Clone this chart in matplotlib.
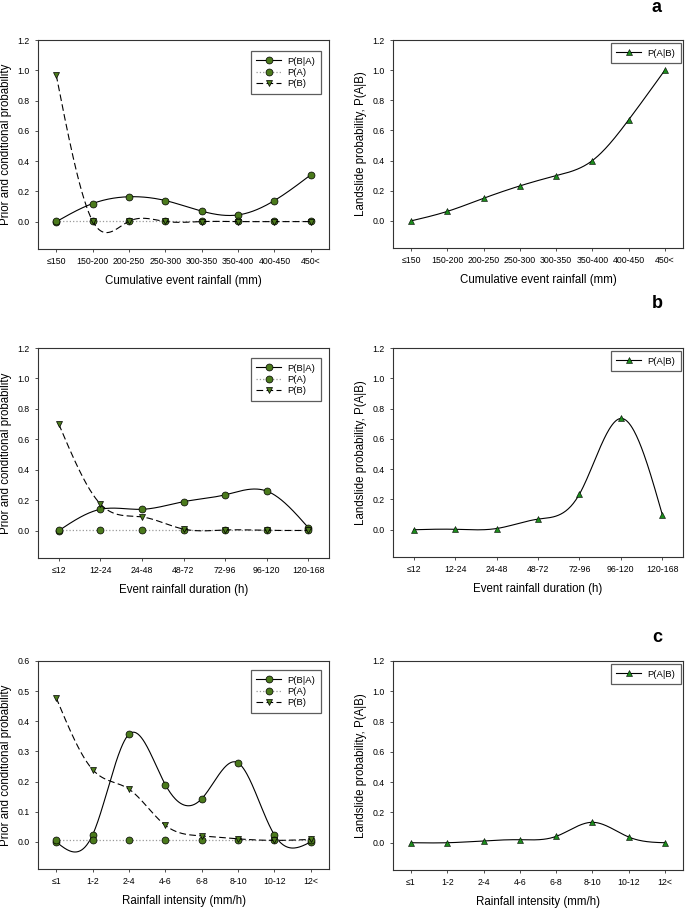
import numpy as np
import matplotlib
matplotlib.use("Agg")
import matplotlib.pyplot as plt

plt.rcParams['font.family'] = ['Liberation Sans', 'DejaVu Sans']

# 类别标签
CAT_RAIN = ["≤150", "150-200", "200-250", "250-300", "300-350", "350-400", "400-450", "450<"]
CAT_DUR = ["≤12", "12-24", "24-48", "48-72", "72-96", "96-120", "120-168"]
CAT_INT = ["≤1", "1-2", "2-4", "4-6", "6-8", "8-10", "10-12", "12<"]

# a: 累计降雨
A_PBA = [0.0, 0.12, 0.165, 0.14, 0.07, 0.045, 0.14, 0.31]
A_PA = [0.005, 0.005, 0.005, 0.005, 0.005, 0.005, 0.005, 0.005]
A_PB = [0.97, 0.005, 0.003, 0.002, 0.001, 0.001, 0.001, 0.001]
A_PAB = [0.0, 0.063, 0.15, 0.232, 0.30, 0.40, 0.67, 1.0]

# b: 降雨历时
B_PBA = [0.0, 0.14, 0.14, 0.19, 0.235, 0.26, 0.02]
B_PA = [0.005, 0.005, 0.005, 0.005, 0.005, 0.005, 0.005]
B_PB = [0.70, 0.175, 0.09, 0.01, 0.004, 0.002, 0.001]
B_PAB = [0.0, 0.003, 0.008, 0.07, 0.235, 0.735, 0.10]

# c: 降雨强度
C_PBA = [0.0, 0.023, 0.357, 0.19, 0.143, 0.262, 0.023, 0.0]
C_PA = [0.005, 0.005, 0.005, 0.005, 0.005, 0.005, 0.005, 0.005]
C_PB = [0.478, 0.24, 0.175, 0.055, 0.02, 0.01, 0.005, 0.008]
C_PAB = [0.0, 0.0, 0.012, 0.02, 0.042, 0.135, 0.038, 0.0]

GREEN_DARK = "#4b7a1c"
GREEN = "#1c8c1c"
EDGE = "#333333"

fig = plt.figure(figsize=(6.85, 9.08), dpi=100)
W, H = 685.0, 908.0


def natural_spline(y, n=300):
    # 自然三次样条
    y = np.asarray(y, float)
    m = len(y)
    A = np.zeros((m, m))
    r = np.zeros(m)
    A[0, 0] = A[-1, -1] = 1
    for i in range(1, m - 1):
        A[i, i - 1] = 1
        A[i, i] = 4
        A[i, i + 1] = 1
        r[i] = 6 * (y[i + 1] - 2 * y[i] + y[i - 1])
    M = np.linalg.solve(A, r)
    xs = np.linspace(0, m - 1, n)
    idx = np.clip(np.floor(xs).astype(int), 0, m - 2)
    t = xs - idx
    ys = ((1 - t) * y[idx] + t * y[idx + 1]
          + ((1 - t) ** 3 - (1 - t)) * M[idx] / 6
          + (t ** 3 - t) * M[idx + 1] / 6)
    return xs, ys


def style_axes(ax, cats, xlabel, ylabel, ymax, ymin, step):
    ax.set_xlim(-0.5, len(cats) - 0.5)
    ax.set_ylim(ymin, ymax)
    ax.set_xticks(range(len(cats)))
    ax.set_xticklabels(cats, fontsize=6.3)
    ticks = np.round(np.arange(0, ymax + step / 2, step), 2)
    ax.set_yticks(ticks)
    ax.set_yticklabels([f"{t:.1f}" for t in ticks], fontsize=6.3)
    ax.tick_params(direction="out", length=2.5, width=0.6, color=EDGE, pad=3.5)
    for s in ax.spines.values():
        s.set_linewidth(0.8)
        s.set_color(EDGE)
    ax.set_xlabel(xlabel, fontsize=8.3, labelpad=6)
    ax.set_ylabel(ylabel, fontsize=8.3, labelpad=4)


def add_legend(ax, handles, labels, right, top, spacing):
    leg = ax.legend(handles, labels, loc="upper right", fontsize=6.8,
                    bbox_to_anchor=(right / W, 1 - top / H), bbox_transform=fig.transFigure,
                    borderaxespad=0, fancybox=False, edgecolor=EDGE, handlelength=2.6,
                    labelspacing=spacing, borderpad=0.6, handletextpad=0.7)
    leg.get_frame().set_linewidth(0.9)


def plot_prior(ax, cats, pba, pa, pb, xlabel, ymax, ymin, step, leg_top):
    x = np.arange(len(cats))
    xs, ys = natural_spline(pba)
    ax.plot(xs, ys, color="black", lw=0.8)
    ax.plot(x, pba, "o", color=GREEN_DARK, mec="black", mew=0.5, ms=5)
    ax.plot(x, pa, ":", color="#999999", lw=0.9)
    ax.plot(x, pa, "o", color=GREEN_DARK, mec="black", mew=0.5, ms=5)
    xs, ys = natural_spline(pb)
    ax.plot(xs, ys, color="black", lw=0.8, dashes=(6, 3))
    ax.plot(x, pb, "v", color=GREEN_DARK, mec="black", mew=0.5, ms=5)
    h1 = plt.Line2D([], [], color="black", lw=0.8, marker="o", mfc=GREEN_DARK, mec="black", mew=0.5, ms=5)
    h2 = plt.Line2D([], [], color="#999999", lw=0.9, ls=":", marker="o", mfc=GREEN_DARK, mec="black", mew=0.5, ms=5)
    h3 = plt.Line2D([], [], color="black", lw=0.8, dashes=(6, 3), marker="v", mfc=GREEN_DARK, mec="black", mew=0.5, ms=5)
    add_legend(ax, [h1, h2, h3], ["P(B|A)", "P(A)", "P(B)"], 321, leg_top, 0.25)
    style_axes(ax, cats, xlabel, "Prior and conditional probability", ymax, ymin, step)


def plot_post(ax, cats, pab, xlabel, leg_top):
    x = np.arange(len(cats))
    xs, ys = natural_spline(pab)
    ax.plot(xs, ys, color="black", lw=0.8)
    ax.plot(x, pab, "^", color=GREEN, mec="black", mew=0.4, ms=4.5)
    h = plt.Line2D([], [], color="black", lw=0.8, marker="^", mfc=GREEN, mec="black", mew=0.4, ms=4.5)
    add_legend(ax, [h], ["P(A|B)"], 681, leg_top, 0.3)
    style_axes(ax, cats, xlabel, "Landslide probability, P(A|B)", 1.2, -0.18, 0.2)


def add_ax(l, r, t, b):
    return fig.add_axes([l / W, 1 - b / H, (r - l) / W, (b - t) / H])


ax = add_ax(38, 329, 40, 249)
plot_prior(ax, CAT_RAIN, A_PBA, A_PA, A_PB, "Cumulative event rainfall (mm)", 1.2, -0.18, 0.2, 51)
ax = add_ax(393, 683, 40, 248)
plot_post(ax, CAT_RAIN, A_PAB, "Cumulative event rainfall (mm)", 43)

ax = add_ax(38, 329, 348, 558)
plot_prior(ax, CAT_DUR, B_PBA, B_PA, B_PB, "Event rainfall duration (h)", 1.2, -0.18, 0.2, 358)
ax = add_ax(393, 683, 348, 557)
plot_post(ax, CAT_DUR, B_PAB, "Event rainfall duration (h)", 351)

ax = add_ax(38, 329, 661, 869)
plot_prior(ax, CAT_INT, C_PBA, C_PA, C_PB, "Rainfall intensity (mm/h)", 0.6, -0.09, 0.1, 670)
ax = add_ax(393, 683, 661, 870)
plot_post(ax, CAT_INT, C_PAB, "Rainfall intensity (mm/h)", 664)

for lab, yy in [("a", 8), ("b", 304), ("c", 637)]:
    fig.text(657 / W, 1 - yy / H, lab, fontsize=13, fontweight="bold", ha="center", va="center")

fig.savefig("out.png", dpi=100)
